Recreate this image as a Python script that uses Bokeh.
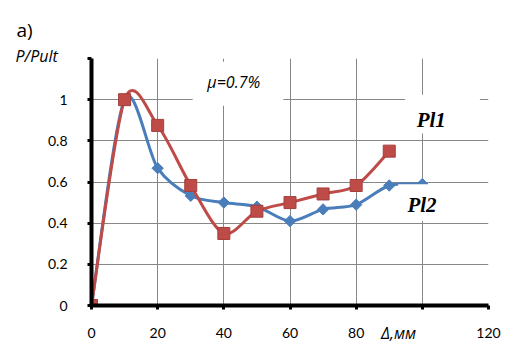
import numpy as np
from bokeh.plotting import figure
from bokeh.models import Range1d, FixedTicker, Label, BoxAnnotation
from bokeh.embed import file_html
from bokeh.resources import INLINE

# ---- data ----
x_pl2 = [0, 10, 20, 30, 40, 50, 60, 70, 80, 90, 100]
y_pl2 = [0, 1.0, 0.667, 0.533, 0.5, 0.48, 0.41, 0.467, 0.49, 0.583, 0.59]
x_pl1 = [0, 10, 20, 30, 40, 50, 60, 70, 80, 90]
y_pl1 = [0, 1.0, 0.875, 0.583, 0.35, 0.458, 0.5, 0.542, 0.583, 0.75]
x_ticks = [0, 20, 40, 60, 80, 100, 120]
x_tick_labels = ["0", "20", "40", "60", "80", "", "120"]
y_ticks = [0, 0.2, 0.4, 0.6, 0.8, 1.0, 1.2]
y_tick_labels = ["0", "0.2", "0.4", "0.6", "0.8", "1", ""]

BLUE = "#4A7EBB"
RED = "#BE4B48"
GRID = "#878787"
LBL_FONT = "Lato"


def smooth(xs, ys, k=0.15):
    pts = np.column_stack([xs, ys]).astype(float)
    n = len(pts)
    segs = {"x0": [], "y0": [], "x1": [], "y1": [], "cx0": [], "cy0": [], "cx1": [], "cy1": []}
    for i in range(n - 1):
        pm = pts[i - 1] if i > 0 else pts[i]
        pp = pts[i + 2] if i + 2 < n else pts[i + 1]
        c1 = pts[i] + (pts[i + 1] - pm) * k
        c2 = pts[i + 1] - (pp - pts[i]) * k
        segs["x0"].append(pts[i][0]); segs["y0"].append(pts[i][1])
        segs["x1"].append(pts[i + 1][0]); segs["y1"].append(pts[i + 1][1])
        segs["cx0"].append(c1[0]); segs["cy0"].append(c1[1])
        segs["cx1"].append(c2[0]); segs["cy1"].append(c2[1])
    return segs


p = figure(width=516, height=362, x_range=Range1d(0, 120), y_range=Range1d(0, 1.2),
           output_backend="svg", toolbar_location=None,
           min_border_left=91, min_border_right=28, min_border_top=58, min_border_bottom=56)
p.outline_line_color = None
p.background_fill_color = "white"
p.border_fill_color = "white"

p.xaxis.ticker = FixedTicker(ticks=x_ticks)
p.yaxis.ticker = FixedTicker(ticks=y_ticks)
p.xaxis.major_label_overrides = {t: s for t, s in zip(x_ticks, x_tick_labels)}
p.yaxis.major_label_overrides = {t: s for t, s in zip(y_ticks, y_tick_labels)}
for ax in (p.xaxis, p.yaxis):
    ax.axis_line_color = "black"
    ax.axis_line_width = 4
    ax.major_tick_line_color = "black"
    ax.major_tick_line_width = 3
    ax.major_tick_out = 4
    ax.major_tick_in = 0
    ax.minor_tick_line_color = None
    ax.major_label_text_font = LBL_FONT
    ax.major_label_text_font_size = "14px"
    ax.major_label_text_color = "black"
p.xaxis.major_label_standoff = 18
p.yaxis.major_label_standoff = 20
p.yaxis.major_label_text_align = "center"

p.xgrid.grid_line_color = GRID
p.ygrid.grid_line_color = GRID
p.xgrid.grid_line_width = 1
p.ygrid.grid_line_width = 1

# smoothed lines
s2 = smooth(x_pl2, y_pl2)
p.bezier(x0=s2["x0"], y0=s2["y0"], x1=s2["x1"], y1=s2["y1"], cx0=s2["cx0"], cy0=s2["cy0"],
         cx1=s2["cx1"], cy1=s2["cy1"], line_color=BLUE, line_width=3)
p.scatter(x_pl2, y_pl2, marker="square", angle=np.pi / 4, size=8,
          fill_color=BLUE, line_color=BLUE)
s1 = smooth(x_pl1, y_pl1)
p.bezier(x0=s1["x0"], y0=s1["y0"], x1=s1["x1"], y1=s1["y1"], cx0=s1["cx0"], cy0=s1["cy0"],
         cx1=s1["cx1"], cy1=s1["cy1"], line_color=RED, line_width=3)
p.scatter(x_pl1, y_pl1, marker="square", size=12, fill_color=RED, line_color="#A43F3C")

# white label boxes
for l, r, b, t in [(30.6, 58.0, 0.971, 1.184), (94.8, 117.4, 0.836, 1.024), (92.7, 107.8, 0.411, 0.589)]:
    p.add_layout(BoxAnnotation(left=l, right=r, bottom=b, top=t, fill_color="white",
                               fill_alpha=1, line_color=None))

p.add_layout(Label(x=43.0, y=1.087, text="μ=0.7%", text_font="Open Sans", text_font_style="italic",
                   text_font_size="16px", text_align="center", text_baseline="middle", text_color="black"))
p.add_layout(Label(x=102.7, y=0.903, text="Pl1", text_font="Liberation Serif",
                   text_font_style="bold italic", text_font_size="21px", text_align="center",
                   text_baseline="middle", text_color="black"))
p.add_layout(Label(x=99.9, y=0.486, text="Pl2", text_font="Liberation Serif",
                   text_font_style="bold italic", text_font_size="21px", text_align="center",
                   text_baseline="middle", text_color="black"))
# texts outside the plot frame, placed in side panels (canvas pixels)
p.add_layout(Label(x=398, y=332, x_units="canvas", y_units="canvas", text="Δ,мм",
                   text_font="Open Sans", text_font_style="italic", text_font_size="16px",
                   text_align="center", text_baseline="middle", text_color="black"), "below")
p.add_layout(Label(x=15, y=55, x_units="canvas", y_units="canvas", text="P/Pult",
                   text_font="Open Sans", text_font_style="italic", text_font_size="16px",
                   text_align="left", text_baseline="middle", text_color="black"), "above")
p.add_layout(Label(x=16, y=29, x_units="canvas", y_units="canvas", text="a)",
                   text_font="Open Sans", text_font_size="19px", text_align="left",
                   text_baseline="middle", text_color="black"), "above")

open("out.html", "w").write(file_html(p, INLINE))
